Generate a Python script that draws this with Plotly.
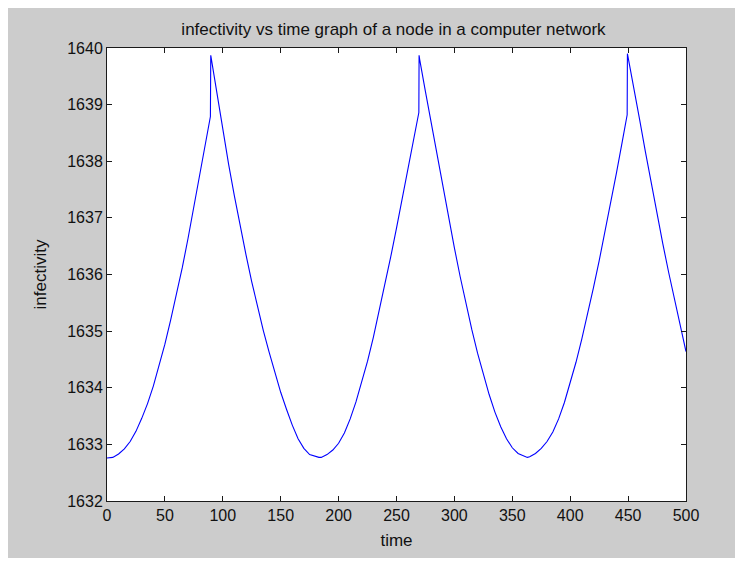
import plotly.graph_objects as go

# --- data ---
time = [
    # rise 1
    0, 5, 10, 15, 20, 25, 30, 35, 40, 45, 50, 55, 60, 65, 70, 75, 80, 85, 89.3,
    # peak 1 and decline 1
    89.6, 90, 95, 100, 105, 110, 115, 120, 125, 130, 135, 140, 145, 150, 155, 160,
    165, 170, 175, 180, 183,
    # rise 2
    185, 190, 195, 200, 205, 210, 215, 220, 225, 230, 235, 240, 245, 250, 255, 260,
    265, 269.3,
    # peak 2 and decline 2
    269.5, 270, 275, 280, 285, 290, 295, 300, 305, 310, 315, 320, 325, 330, 335, 340,
    345, 350, 355, 360, 363,
    # rise 3
    365, 370, 375, 380, 385, 390, 395, 400, 405, 410, 415, 420, 425, 430, 435, 440,
    445, 449.2,
    # peak 3 and decline 3
    449.4, 450, 455, 460, 465, 470, 475, 480, 485, 490, 495, 497, 500,
]
infectivity = [
    1632.76, 1632.77, 1632.83, 1632.92, 1633.05, 1633.23, 1633.46, 1633.72, 1634.03,
    1634.38, 1634.77, 1635.20, 1635.65, 1636.12, 1636.64, 1637.18, 1637.73, 1638.30,
    1638.79,
    1639.87, 1639.82, 1639.17, 1638.55, 1637.95, 1637.39, 1636.85, 1636.35, 1635.87,
    1635.43, 1635.01, 1634.63, 1634.25, 1633.92, 1633.62, 1633.34, 1633.10, 1632.93,
    1632.82, 1632.78, 1632.77,
    1632.77, 1632.82, 1632.90, 1633.02, 1633.20, 1633.45, 1633.75, 1634.09, 1634.47,
    1634.89, 1635.35, 1635.82, 1636.31, 1636.82, 1637.34, 1637.87, 1638.41, 1638.86,
    1639.87, 1639.80, 1639.23, 1638.67, 1638.11, 1637.55, 1637.00, 1636.47, 1635.96,
    1635.48, 1635.03, 1634.61, 1634.23, 1633.88, 1633.57, 1633.31, 1633.10, 1632.94,
    1632.84, 1632.79, 1632.77,
    1632.78, 1632.84, 1632.93, 1633.05, 1633.22, 1633.45, 1633.74, 1634.08, 1634.45,
    1634.86, 1635.30, 1635.76, 1636.24, 1636.74, 1637.26, 1637.80, 1638.35, 1638.82,
    1639.90, 1639.83, 1639.29, 1638.73, 1638.16, 1637.60, 1637.06, 1636.54, 1636.04,
    1635.56, 1635.10, 1634.93, 1634.64,
]
x_ticks = [0, 50, 100, 150, 200, 250, 300, 350, 400, 450, 500]
y_ticks = [1632, 1633, 1634, 1635, 1636, 1637, 1638, 1639, 1640]

title_text = "infectivity vs time graph of a node in a computer network"
x_label = "time"
y_label = "infectivity"

W, H = 731, 550
L, T = 99, 40
PW, PH = 579, 456
R, B = W - L - PW, H - T - PH

fig = go.Figure()
fig.add_trace(go.Scatter(
    x=time, y=infectivity, mode="lines",
    line=dict(color="#0000ff", width=1.1),
    showlegend=False,
))

font_family = "Liberation Sans, Arial, sans-serif"
txt = "#111111"
axis_common = dict(
    showgrid=False, zeroline=False,
    showline=True, linecolor="#1a1a1a", linewidth=1,
    mirror="ticks", ticks="inside", ticklen=5, tickcolor="#1a1a1a", tickwidth=1,
    tickfont=dict(family=font_family, size=16, color=txt),
)

fig.update_layout(
    width=W, height=H,
    margin=dict(l=L, r=R, t=T, b=B, pad=0),
    paper_bgcolor="#cccccc",
    plot_bgcolor="#ffffff",
    title=dict(text=title_text, x=385.5 / W, xanchor="center",
               y=1 - 21 / H, yanchor="middle",
               font=dict(family=font_family, size=17, color=txt)),
    xaxis=dict(range=[0, 500], tickvals=x_ticks, ticktext=[str(v) for v in x_ticks],
               title=dict(text=x_label, standoff=10,
                          font=dict(family=font_family, size=17, color=txt)),
               **axis_common),
    yaxis=dict(range=[1632, 1640], tickvals=y_ticks, ticktext=[str(v) for v in y_ticks],
               title=dict(text=y_label, standoff=16,
                          font=dict(family=font_family, size=17, color=txt)),
               **axis_common),
)

fig.write_html("out.html")
